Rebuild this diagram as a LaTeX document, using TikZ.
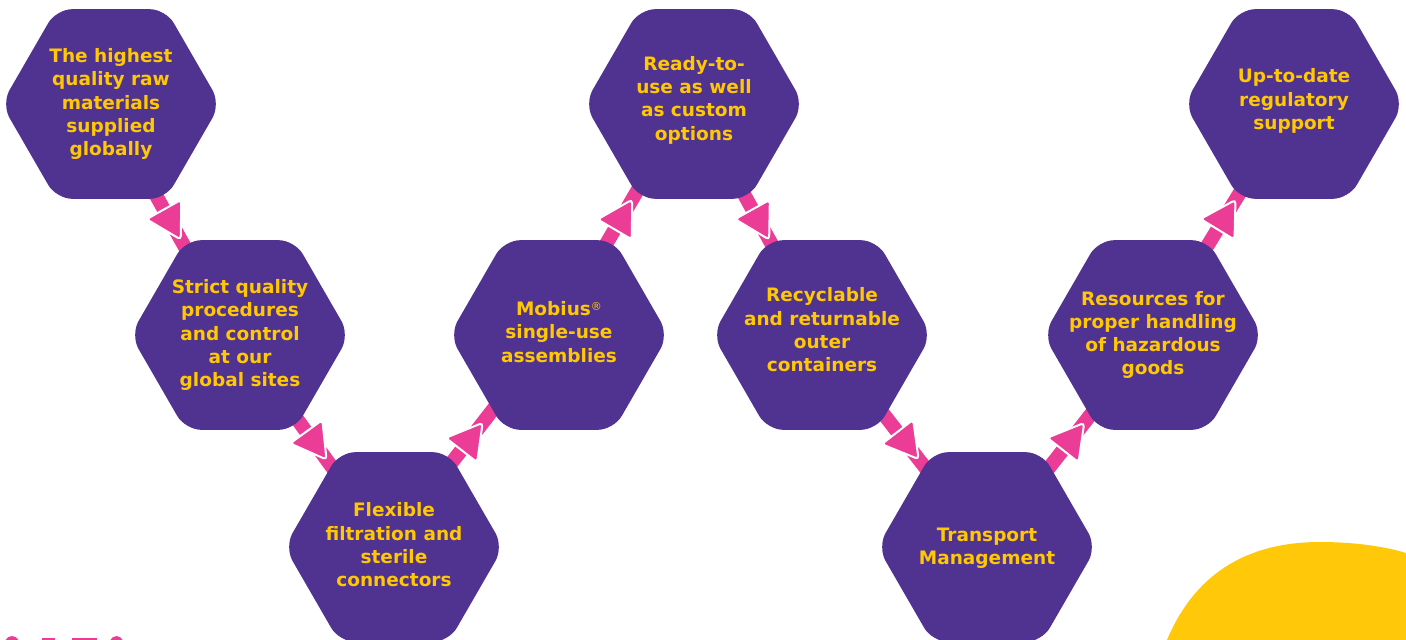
\documentclass[tikz,border=0pt]{standalone}
\usepackage{fontspec}
\setmainfont{DejaVu Sans}
\usetikzlibrary{shapes.geometric,backgrounds}
\definecolor{hexpurple}{HTML}{503291}
\definecolor{mpink}{HTML}{EB3C96}
\definecolor{myellow}{HTML}{FFC800}
\definecolor{blobyellow}{HTML}{FFC90A}
\tikzset{
  hexbox/.style={regular polygon, regular polygon sides=6, minimum size=219pt,
    inner sep=0pt, outer sep=0pt, fill=hexpurple, rounded corners=16pt},
  hextext/.style={text=myellow, font=\fontsize{18.5}{23.3}\selectfont\bfseries,
    align=center, inner sep=0pt},
  conn/.style={mpink, line width=14pt},
  arrowtri/.style={regular polygon, regular polygon sides=3,
    minimum size=46pt, inner sep=0pt, fill=mpink, draw=white, line width=2pt,
    rounded corners=3.5pt, pos=0.5, rotate=#1},
  pinkbit/.style={fill=mpink}
}
\newcommand{\regmark}{{\mdseries\fontsize{11}{11}\selectfont\raisebox{5.5pt}{®}}}
\begin{document}
\begin{tikzpicture}[x=1pt,y=-1pt]
\useasboundingbox (0,0) rectangle (1406,640);

% hexagons
\node[hexbox] (h1) at (111,104) {};
\node[hexbox] (h2) at (240,335) {};
\node[hexbox] (h3) at (394,547) {};
\node[hexbox] (h4) at (559,335) {};
\node[hexbox] (h5) at (694,104) {};
\node[hexbox] (h6) at (822,335) {};
\node[hexbox] (h7) at (987,547) {};
\node[hexbox] (h8) at (1153,335) {};
\node[hexbox] (h9) at (1294,104) {};

% texts
\node[hextext] (t1) at (111,104) {The highest\\quality raw\\materials\\supplied\\globally};
\node[hextext] (t2) at (240,335) {Strict quality\\procedures\\and control\\at our\\global sites};
\node[hextext] (t3) at (394,545) {Flexible\\filtration and\\sterile\\connectors};
\node[hextext] (t4) at (559,332) {Mobius\regmark\\single-use\\assemblies};
\node[hextext] (t5) at (694,100) {Ready-to-\\use as well\\as custom\\options};
\node[hextext] (t6) at (822,330) {Recyclable\\and returnable\\outer\\containers};
\node[hextext] (t7) at (987,548) {Transport\\Management};
\node[hextext] (t8) at (1153,335) {Resources for\\proper handling\\of hazardous\\goods};
\node[hextext] (t9) at (1294,101) {Up-to-date\\regulatory\\support};

% connectors
\begin{scope}[on background layer]
  \fill[white] (0,0) rectangle (1406,640);
  \draw[conn] ([xshift=-6pt]h1.center) -- node[arrowtri=-150.8] (a12) {} ([xshift=-6pt]h2.center);
  \draw[conn] ([xshift=-4pt]h2.center) -- node[arrowtri=-144.0] (a23) {} ([xshift=-4pt]h3.center);
  \draw[conn] ([xshift=-8pt]h3.center) -- node[arrowtri=-37.9] (a34) {} ([xshift=-8pt]h4.center);
  \draw[conn] ([xshift=-6pt]h4.center) -- node[arrowtri=-30.3] (a45) {} ([xshift=-6pt]h5.center);
  \draw[conn] (h5.center) -- node[arrowtri=-151.0] (a56) {} (h6.center);
  \draw[conn] (h6.center) -- node[arrowtri=-142.1] (a67) {} (h7.center);
  \draw[conn] (h7.center) -- node[arrowtri=-38.1] (a78) {} (h8.center);
  \draw[conn] (h8.center) -- node[arrowtri=-31.4] (a89) {} (h9.center);
\end{scope}

% yellow blob
\fill[blobyellow] (1167,640) .. controls (1190,585) and (1235,542) .. (1320,542)
  .. controls (1360,542) and (1390,548) .. (1406,553) -- (1406,640) -- cycle;

% cut-off pink heading (tops of letters)
\fill[pinkbit] (12,652) ellipse [x radius=10, y radius=16];
\fill[pinkbit] (42,638) rectangle (55,646);
\fill[pinkbit] (72,638) rectangle (97,646);
\fill[pinkbit] (116.5,652) ellipse [x radius=9.5, y radius=16];
\end{tikzpicture}
\end{document}
